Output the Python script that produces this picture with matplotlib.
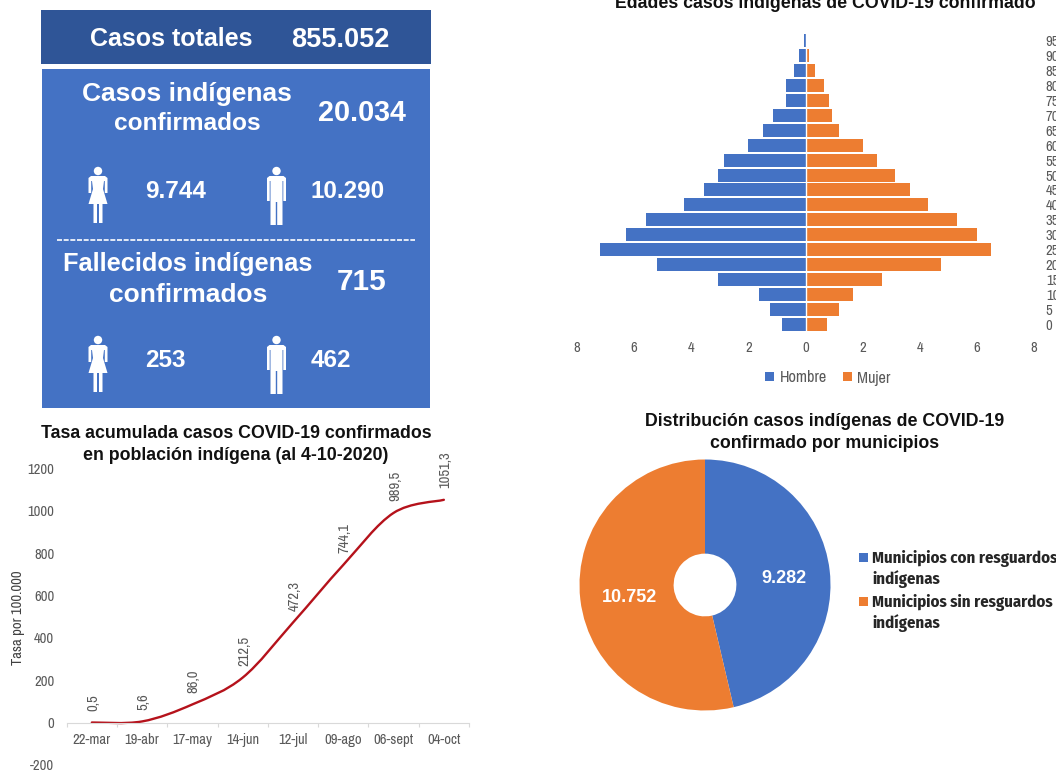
import matplotlib
matplotlib.use("Agg")
import numpy as np
import matplotlib.pyplot as plt
from matplotlib.patches import Rectangle, Polygon, Circle, PathPatch
from matplotlib.path import Path

W, H = 1056, 772

# Piramide de edades
edades = [0, 5, 10, 15, 20, 25, 30, 35, 40, 45, 50, 55, 60, 65, 70, 75, 80, 85, 90, 95]
hombre = [0.82, 1.24, 1.64, 3.05, 5.2, 7.2, 6.3, 5.6, 4.25, 3.57, 3.07, 2.85, 2.02, 1.5, 1.14, 0.7, 0.67, 0.42, 0.22, 0.06]
mujer = [0.76, 1.16, 1.66, 2.69, 4.74, 6.5, 6.02, 5.29, 4.29, 3.67, 3.13, 2.51, 2.03, 1.16, 0.92, 0.81, 0.65, 0.33, 0.14, 0.07]

# Tasa acumulada
fechas = ["22-mar", "19-abr", "17-may", "14-jun", "12-jul", "09-ago", "06-sept", "04-oct"]
tasa = [0.5, 5.6, 86.0, 212.5, 472.3, 744.1, 989.5, 1051.3]
tasa_txt = ["0,5", "5,6", "86,0", "212,5", "472,3", "744,1", "989,5", "1051,3"]

# Municipios
municipios = ["Municipios con resguardos\nindígenas", "Municipios sin resguardos\nindígenas"]
casos_mun = [9282, 10752]
casos_mun_txt = ["9.282", "10.752"]

AZUL = "#4472C4"
AZUL_OSC = "#2F5597"
NARANJA = "#ED7D31"
GRIS = "#595959"
NARROW = ["Archivo Narrow", "Liberation Sans"]
COND_BOLD = ["Fira Sans Condensed", "Liberation Sans"]

plt.rcParams["font.family"] = ["Liberation Sans", "DejaVu Sans"]


def px_axes(fig, x, y, w, h):
    return fig.add_axes([x / W, 1 - (y + h) / H, w / W, h / H])


fig = plt.figure(figsize=(W / 100, H / 100), dpi=100)

# Capa en pixeles para paneles y titulos
bg = fig.add_axes([0, 0, 1, 1])
bg.set_xlim(0, W)
bg.set_ylim(H, 0)
bg.axis("off")

bg.add_patch(Rectangle((41, 10), 390, 54, color=AZUL_OSC, lw=0))
bg.add_patch(Rectangle((42, 69), 388, 339, color=AZUL, lw=0))
bg.plot([57, 415], [239.5, 239.5], color="white", lw=1.2, ls=(0, (3, 1)))


def panel(x, y, s, size):
    bg.text(x, y, s, color="white", fontsize=size, fontweight="bold", ha="center", va="center_baseline")


panel(171, 37, "Casos totales", 18)
panel(340, 37, "855.052", 19.5)
panel(187, 92, "Casos indígenas", 19)
panel(187, 121, "confirmados", 17.6)
panel(362, 110, "20.034", 20.7)
panel(176, 189, "9.744", 17.6)
panel(348, 189, "10.290", 17.5)
panel(188, 261, "Fallecidos indígenas", 18.3)
panel(188, 293, "confirmados", 19)
panel(362, 279, "715", 21.4)
panel(165, 358, "253", 17.5)
panel(331, 358, "462", 17.5)

mujer_icon = [(-7, 9), (7, 9), (9.5, 11), (9.5, 26), (6.8, 26), (6.8, 14), (6, 14), (5, 22), (9.5, 37),
              (4.5, 37), (4.5, 56), (1, 56), (1, 37), (-1, 37), (-1, 56), (-4.5, 56), (-4.5, 37),
              (-9.5, 37), (-5, 22), (-6, 14), (-6.8, 14), (-6.8, 26), (-9.5, 26), (-9.5, 11)]
hombre_icon = [(-7, 9), (7, 9), (9.5, 11), (9.5, 34), (6.8, 34), (6.8, 14), (6, 14), (6, 58), (0.7, 58),
               (0.7, 35), (-0.7, 35), (-0.7, 58), (-6, 58), (-6, 14), (-6.8, 14), (-6.8, 34), (-9.5, 34), (-9.5, 11)]


def persona(cx, top, forma):
    bg.add_patch(Circle((cx, top + 4), 4.2, color="white", lw=0))
    bg.add_patch(Polygon([(cx + a, top + b) for a, b in forma], closed=True, color="white", lw=0))


persona(98, 167, mujer_icon)
persona(276.5, 167, hombre_icon)
persona(98, 336, mujer_icon)
persona(276.5, 336, hombre_icon)

# Titulos
for x, y, s in [(825, 1, "Edades casos indígenas de COVID-19 confirmado"),
                (825, 419, "Distribución casos indígenas de COVID-19"),
                (825, 441, "confirmado por municipios"),
                (236, 432, "Tasa acumulada casos COVID-19 confirmados"),
                (236, 453, "en población indígena (al 4-10-2020)")]:
    bg.text(x, y, s, fontsize=12.8, fontweight="bold", ha="center", va="center_baseline", color="#111111")

# Piramide
ax1 = px_axes(fig, 577, 33.5, 457, 298)
ax1.patch.set_alpha(0)
ypos = np.arange(len(edades))
ax1.barh(ypos, -np.array(hombre), height=0.87, color=AZUL, label="Hombre")
ax1.barh(ypos, mujer, height=0.87, color=NARANJA, label="Mujer")
ax1.axvline(0, color="white", lw=1)
ax1.set_xlim(-8, 8)
ax1.set_ylim(-0.5, 19.5)
ax1.set_xticks([-8, -6, -4, -2, 0, 2, 4, 6, 8])
ax1.set_xticklabels(["8", "6", "4", "2", "0", "2", "4", "6", "8"], family=NARROW, fontsize=10.5)
ax1.set_yticks(ypos)
ax1.set_yticklabels([str(e) for e in edades], family=NARROW, fontsize=10.5)
ax1.yaxis.tick_right()
ax1.tick_params(axis="x", length=0, pad=7, labelcolor=GRIS)
ax1.tick_params(axis="y", length=0, pad=8.5, labelcolor=GRIS)
for s in ax1.spines.values():
    s.set_visible(False)
ax1.legend(loc="center", bbox_to_anchor=(828 / W, 1 - 378 / H), bbox_transform=fig.transFigure, ncol=2,
           frameon=False, handlelength=0.52, handleheight=0.52, handletextpad=0.35, columnspacing=1.0,
           prop={"family": NARROW, "size": 11.7}, labelcolor=GRIS)

# Tasa acumulada
ax2 = px_axes(fig, 66.7, 468.3, 402.3, 296.7)
ax2.patch.set_alpha(0)
# set_position borra los ticks, va primero
ax2.spines["bottom"].set_position(("data", 0))
ax2.spines["bottom"].set_color("#D9D9D9")
ax2.spines["top"].set_visible(False)
ax2.spines["left"].set_visible(False)
ax2.spines["right"].set_visible(False)
xpos = np.arange(len(fechas))
ax2.set_xlim(-0.5, 7.5)
ax2.set_ylim(-200, 1200)

# Linea suavizada que pasa por los valores
verts = [(xpos[0], tasa[0])]
codes = [Path.MOVETO]
for i in range(len(tasa) - 1):
    y0 = tasa[max(i - 1, 0)]
    y3 = tasa[min(i + 2, len(tasa) - 1)]
    x0 = xpos[max(i - 1, 0)]
    x3 = xpos[min(i + 2, len(tasa) - 1)]
    verts.append((xpos[i] + (xpos[i + 1] - x0) / 6, tasa[i] + (tasa[i + 1] - y0) / 6))
    verts.append((xpos[i + 1] - (x3 - xpos[i]) / 6, tasa[i + 1] - (y3 - tasa[i]) / 6))
    verts.append((xpos[i + 1], tasa[i + 1]))
    codes += [Path.CURVE4, Path.CURVE4, Path.CURVE4]
ax2.add_patch(PathPatch(Path(verts, codes), fill=False, edgecolor="#B5121B", lw=1.7, capstyle="round"))

for x, v, t in zip(xpos, tasa, tasa_txt):
    ax2.annotate(t, (x, v), xytext=(1, 8.5), textcoords="offset points", rotation=90, ha="center", va="bottom",
                 family=NARROW, fontsize=10.5, color=GRIS)

ax2.set_xticks(xpos)
ax2.set_xticklabels(fechas, family=NARROW, fontsize=10.5)
ax2.set_xticks(np.arange(-0.5, 8, 1), minor=True)
ax2.tick_params(axis="x", which="major", length=0, pad=7.5, labelcolor=GRIS)
ax2.tick_params(axis="x", which="minor", length=3, color="#D9D9D9", width=0.8)
ax2.set_yticks([-200, 0, 200, 400, 600, 800, 1000, 1200])
ax2.set_yticklabels(["-200", "0", "200", "400", "600", "800", "1000", "1200"], family=NARROW, fontsize=10.5)
ax2.tick_params(axis="y", length=0, pad=9, labelcolor=GRIS)
bg.text(18, 618, "Tasa por 100.000", rotation=90, ha="center", va="center", family=NARROW, fontsize=10.5, color="#404040")

# Dona municipios
ax3 = px_axes(fig, 705 - 125.5, 585 - 125.5, 251, 251)
ax3.set_aspect("equal")
ax3.pie(casos_mun, colors=[AZUL, NARANJA], startangle=90, counterclock=False, radius=1.0,
        wedgeprops={"width": 0.75, "linewidth": 0})
ax3.set_xlim(-1, 1)
ax3.set_ylim(-1, 1)
ax3.text(0.63, 0.065, casos_mun_txt[0], color="white", fontsize=13, fontweight="bold", ha="center", va="center_baseline")
ax3.text(-0.60, -0.08, casos_mun_txt[1], color="white", fontsize=13, fontweight="bold", ha="center", va="center_baseline")

# Leyenda de la dona, con el cuadro en la primera linea
for k, (m, c) in enumerate(zip(municipios, [AZUL, NARANJA])):
    bg.add_patch(Rectangle((859, 553 + 44 * k), 9, 9, color=c, lw=0))
    bg.text(872, 550 + 44 * k, m, family=COND_BOLD, fontsize=12, fontweight="bold",
            va="top", ha="left", linespacing=1.25, color="#262626")

fig.savefig("out.png", dpi=100, facecolor="white")
